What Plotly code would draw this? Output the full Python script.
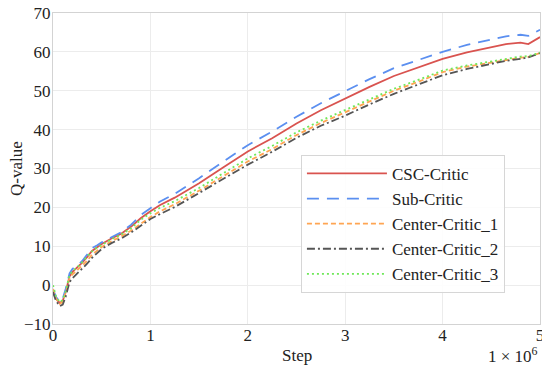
import plotly.graph_objects as go

steps = [0, 0.03, 0.07, 0.1, 0.13, 0.17, 0.2, 0.25, 0.3, 0.35, 0.4, 0.45, 0.5, 0.6, 0.7, 0.8, 0.9,
         1.0, 1.1, 1.25, 1.5, 1.75, 2.0, 2.25, 2.5, 2.75, 3.0, 3.25, 3.5, 3.75, 4.0, 4.25, 4.5,
         4.65, 4.8, 4.88, 5.0]

csc_critic = [-1.5, -3.5, -4.6, -4.0, -1.8, 2.3, 3.4, 4.5, 5.8, 7.2, 8.8, 9.7, 10.6, 12.0, 13.2, 15.0, 17.2,
              19.0, 20.6, 22.5, 26.2, 30.3, 34.4, 37.8, 41.6, 45.0, 48.1, 51.0, 53.8, 56.0, 58.2, 59.9, 61.3,
              62.0, 62.4, 62.0, 63.8]
sub_critic = [-1.0, -3.0, -4.3, -3.5, -1.0, 3.0, 4.2, 5.0, 6.2, 7.8, 9.5, 10.2, 11.0, 12.3, 13.6, 15.5, 18.0,
              19.8, 21.5, 23.5, 27.5, 31.8, 36.0, 39.5, 43.3, 46.8, 50.0, 53.0, 55.8, 58.0, 60.0, 61.8, 63.3,
              64.0, 64.4, 64.1, 65.7]
center_1 = [-1.0, -3.4, -4.8, -4.3, -2.0, 1.8, 2.8, 3.8, 5.0, 6.3, 7.8, 8.8, 9.8, 11.3, 12.5, 14.0, 15.8,
            17.5, 19.0, 20.8, 24.3, 28.0, 31.8, 35.0, 38.6, 41.7, 44.5, 47.3, 50.0, 52.3, 54.8, 56.2, 57.3,
            58.0, 58.5, 58.7, 59.7]
center_2 = [-1.8, -4.0, -5.4, -5.0, -3.0, 0.8, 1.8, 3.0, 4.2, 5.5, 7.0, 8.2, 9.3, 10.8, 12.0, 13.5, 15.2,
            17.0, 18.3, 20.1, 23.7, 27.3, 31.0, 34.3, 37.9, 41.0, 43.6, 46.5, 49.2, 51.6, 54.0, 55.6, 57.0,
            57.7, 58.2, 58.6, 59.7]
center_3 = [0.0, -2.8, -4.4, -3.8, -1.5, 2.6, 3.6, 4.6, 5.9, 7.3, 8.7, 9.6, 10.4, 11.8, 13.0, 14.6, 16.8,
            18.5, 19.9, 21.6, 25.0, 28.8, 32.6, 35.8, 39.3, 42.3, 45.0, 47.8, 50.5, 52.8, 55.2, 56.5, 57.6,
            58.3, 58.8, 58.9, 59.8]

series = [
    ("CSC-Critic", csc_critic, "#d9534f", "solid"),
    ("Sub-Critic", sub_critic, "#5b8ff0", "12px,8px"),
    ("Center-Critic_1", center_1, "#ffa552", "5px,3px"),
    ("Center-Critic_2", center_2, "#555555", "8px,3px,2px,3px"),
    ("Center-Critic_3", center_3, "#6fe85a", "2px,3px"),
]

fig = go.Figure()
for name, vals, color, dash in series:
    fig.add_trace(go.Scatter(x=steps, y=vals, mode="lines", name=name,
                             line=dict(color=color, width=1.8, dash=dash)))

font = "Liberation Serif"
axis_common = dict(showgrid=True, gridcolor="#ececec", gridwidth=1, showline=True,
                   linecolor="#d3d3d3", linewidth=1, mirror=True, zeroline=False,
                   automargin=False, ticks="", ticklabeloverflow="allow",
                   tickfont=dict(family=font, size=17, color="#222"))
# page body has an 8px margin, so the figure is sized to fit the 550x371 window
fig.update_layout(
    width=542, height=363,
    margin=dict(l=45, r=10, t=5, b=47),
    paper_bgcolor="white", plot_bgcolor="white",
    font=dict(family=font, size=16, color="#222"),
    xaxis=dict(range=[0, 5], dtick=1, tick0=0, ticklabelstandoff=-4, **axis_common),
    yaxis=dict(range=[-10, 70], dtick=10, tick0=-10, ticklabelstandoff=-2, **axis_common),
    legend=dict(x=0.928, xanchor="right", y=0.10, yanchor="bottom",
                bgcolor="rgba(255,255,255,0.9)", bordercolor="#d6d6d6", borderwidth=1,
                font=dict(family=font, size=17, color="#222"), itemwidth=80,
                tracegroupgap=0),
    showlegend=True,
)
fig.add_annotation(text="Step", xref="paper", yref="paper", x=0.5, y=-0.1,
                   xanchor="center", yanchor="middle", showarrow=False,
                   font=dict(family=font, size=17, color="#222"))
fig.add_annotation(text="Q-value", xref="paper", yref="paper", x=-0.075, y=0.5,
                   xanchor="center", yanchor="middle", showarrow=False, textangle=-90,
                   font=dict(family=font, size=17, color="#222"))
fig.add_annotation(text="1 × 10<sup>6</sup>", xref="paper", yref="paper", x=1.0, y=-0.1,
                   xanchor="right", yanchor="middle", showarrow=False,
                   font=dict(family=font, size=17, color="#222"))
fig.write_html("out.html")
